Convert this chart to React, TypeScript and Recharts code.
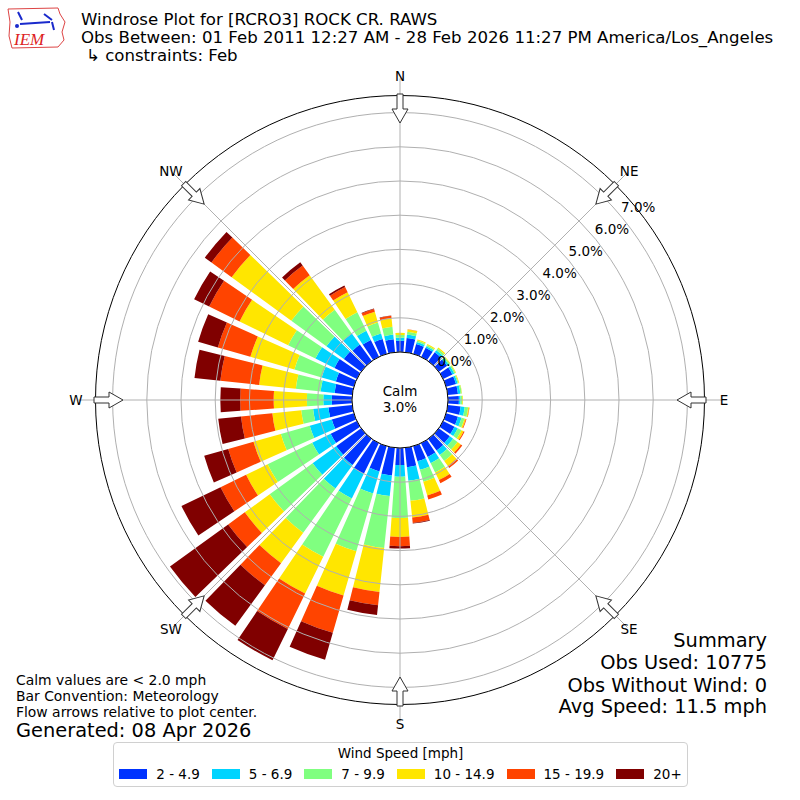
import React from "react";
import {
  RadialBarChart,
  RadialBar,
  PolarAngleAxis,
  PolarRadiusAxis,
  PolarGrid,
} from "recharts";

// direction bins (degrees, meteorological "from")
const DIRS = [
  0, 10, 20, 30, 40, 50, 60, 70, 80, 90, 100, 110, 120, 130, 140, 150, 160, 170,
  180, 190, 200, 210, 220, 230, 240, 250, 260, 270, 280, 290, 300, 310, 320, 330, 340, 350,
];

// frequency (%) per speed bin, one value per direction
const SPD_2_5 = [
  0.33, 0.42, 0.3, 0.3, 0.32, 0.3, 0.3, 0.3, 0.3, 0.32, 0.38, 0.36, 0.37, 0.4, 0.42, 0.45, 0.46, 0.57,
  0.5, 0.82, 0.77, 1.0, 0.95, 0.9, 0.85, 0.67, 0.7, 0.59, 0.52, 0.55, 0.73, 0.63, 0.6, 0.55, 0.45, 0.38,
];
const SPD_5_7 = [
  0.09, 0.1, 0.06, 0.05, 0.08, 0.06, 0.06, 0.05, 0.07, 0.05, 0.12, 0.11, 0.11, 0.12, 0.16, 0.2, 0.26, 0.4,
  0.34, 0.6, 0.67, 0.8, 0.85, 0.85, 0.6, 0.67, 0.45, 0.25, 0.41, 0.43, 0.62, 0.63, 0.4, 0.3, 0.17, 0.14,
];
const SPD_7_10 = [
  0.08, 0.08, 0.05, 0.04, 0.06, 0.04, 0.04, 0.03, 0.04, 0.05, 0.1, 0.09, 0.12, 0.16, 0.22, 0.3, 0.36, 0.59,
  1.21, 1.53, 1.76, 1.9, 1.6, 1.55, 1.45, 0.88, 0.35, 0.48, 0.73, 0.83, 0.89, 1.27, 0.85, 0.6, 0.33, 0.23,
];
const SPD_10_15 = [
  0.06, 0.07, 0.03, 0.03, 0.04, 0.02, 0.02, 0.02, 0.01, 0.02, 0.03, 0.04, 0.07, 0.12, 0.18, 0.25, 0.42, 0.49,
  0.55, 1.29, 1.35, 1.2, 1.1, 0.9, 0.7, 0.83, 0.85, 0.97, 1.08, 1.34, 1.58, 2.16, 1.25, 0.65, 0.33, 0.25,
];
const SPD_15_20 = [
  0, 0.01, 0, 0, 0, 0, 0, 0, 0, 0, 0.01, 0.02, 0.03, 0.05, 0.07, 0.1, 0.12, 0.16,
  0.27, 0.39, 1.13, 1.15, 0.8, 0.6, 0.83, 0.77, 0.92, 0.98, 1.14, 0.99, 0.99, 0.73, 0.35, 0.17, 0.08, 0.07,
];
const SPD_20 = [
  0, 0, 0, 0, 0, 0, 0, 0, 0, 0, 0, 0, 0, 0, 0, 0, 0, 0.02,
  0.07, 0.29, 0.82, 1.02, 1.47, 2.1, 1.27, 0.73, 0.67, 0.58, 0.76, 0.6, 0.49, 0.24, 0.12, 0.05, 0.02, 0.01,
];

const SPEED_LABELS = ["2 - 4.9", "5 - 6.9", "7 - 9.9", "10 - 14.9", "15 - 19.9", "20+"];
const SPEED_COLORS = ["#0033ff", "#00d4ff", "#80ff80", "#ffe600", "#ff4400", "#800000"];
const SPEED_SERIES = [SPD_2_5, SPD_5_7, SPD_7_10, SPD_10_15, SPD_15_20, SPD_20];

const RADIUS_TICKS = [0, 1, 2, 3, 4, 5, 6, 7];
const COMPASS = ["N", "NE", "E", "SE", "S", "SW", "W", "NW"];

const data = DIRS.map((dir, i) => {
  const row: Record<string, number> = { dir };
  SPEED_SERIES.forEach((s, k) => {
    row["s" + k] = s[i];
  });
  return row;
});

const CX = 400;
const CY = 400;
const INNER = 48;
const FRAME = 304.5; // plot edge, 7.5 %
const PX_PER_PCT = (FRAME - INNER) / 7.5;
const RMAX = 8; // recharts nices the radius domain up to 8
const OUTER = INNER + PX_PER_PCT * RMAX;
const FONT = "'DejaVu Sans', sans-serif";

function RadiusTick(props: any) {
  const { x, y, payload } = props;
  return (
    <text x={x + 18} y={y - 8} textAnchor="middle" dominantBaseline="central" fontSize={13.5} fill="#000" fontFamily={FONT}>
      {payload.value.toFixed(1) + "%"}
    </text>
  );
}

function Overlay() {
  const pt = (deg: number, r: number) => {
    const a = (deg * Math.PI) / 180;
    return [CX + r * Math.sin(a), CY - r * Math.cos(a)];
  };
  return (
    <svg width={800} height={800} style={{ position: "absolute", left: 0, top: 0, pointerEvents: "none" }} fontFamily={FONT}>
      <circle cx={CX} cy={CY} r={FRAME} fill="none" stroke="#000" strokeWidth={1} />
      <circle cx={CX} cy={CY} r={INNER} fill="#fff" stroke="#000" strokeWidth={1} />
      <text x={CX} y={CY - 9} textAnchor="middle" dominantBaseline="central" fontSize={13.5}>Calm</text>
      <text x={CX} y={CY + 7} textAnchor="middle" dominantBaseline="central" fontSize={13.5}>3.0%</text>
      {COMPASS.map((lbl, i) => {
        const deg = i * 45;
        const [lx, ly] = pt(deg, 324);
        return (
          <g key={lbl}>
            <g transform={`translate(${CX},${CY}) rotate(${deg})`}>
              <polygon
                points="-3,-306 3,-306 3,-291 8,-291 0,-277 -8,-291 -3,-291"
                fill="#fff"
                stroke="#333"
                strokeWidth={1}
              />
            </g>
            <text x={lx} y={ly} textAnchor="middle" dominantBaseline="central" fontSize={13.5}>{lbl}</text>
          </g>
        );
      })}
      {/* logo */}
      <path d="M8,9 L58,8 L60,14 L65,22 L62,32 L64,40 L58,47 L12,48 L9,36 L10,22 Z" fill="#fff" stroke="#d44" strokeWidth={1} />
      <line x1={20} y1={24} x2={50} y2={22} stroke="#1a2acc" strokeWidth={2} />
      <path d="M18,12 L22,20 M44,14 L52,20 M52,22 L54,30" stroke="#1a2acc" strokeWidth={2} fill="none" />
      <circle cx={17} cy={26} r={2} fill="#1a2acc" />
      <text x={14} y={45} fontFamily="'Liberation Serif', serif" fontStyle="italic" fontSize={17} fill="#d22">IEM</text>
      {/* titles */}
      <text x={81} y={25} fontSize={16.6}>Windrose Plot for [RCRO3] ROCK CR. RAWS</text>
      <text x={81} y={43} fontSize={16.6}>Obs Between: 01 Feb 2011 12:27 AM - 28 Feb 2026 11:27 PM America/Los_Angeles</text>
      <text x={86} y={61} fontSize={16.6}>↳ constraints: Feb</text>
      {/* notes */}
      <text x={16} y={685} fontSize={13.9}>Calm values are &lt; 2.0 mph</text>
      <text x={16} y={701} fontSize={13.9}>Bar Convention: Meteorology</text>
      <text x={16} y={717} fontSize={13.9}>Flow arrows relative to plot center.</text>
      <text x={16} y={737} fontSize={19.4}>Generated: 08 Apr 2026</text>
      <text x={767} y={647} fontSize={19.4} textAnchor="end">Summary</text>
      <text x={767} y={669} fontSize={19.4} textAnchor="end">Obs Used: 10775</text>
      <text x={767} y={692} fontSize={19.4} textAnchor="end">Obs Without Wind: 0</text>
      <text x={767} y={713} fontSize={19.4} textAnchor="end">Avg Speed: 11.5 mph</text>
    </svg>
  );
}

function SpeedLegend() {
  return (
    <div
      style={{
        position: "absolute",
        left: 113,
        top: 742,
        width: 575,
        height: 45,
        boxSizing: "border-box",
        border: "1px solid #d0d0d0",
        borderRadius: 4,
        background: "#fff",
        fontFamily: FONT,
        fontSize: 13.5,
        textAlign: "center",
      }}
    >
      <div style={{ marginTop: 2, lineHeight: "16px" }}>Wind Speed [mph]</div>
      <div style={{ display: "flex", justifyContent: "center", alignItems: "center", gap: 12, marginTop: 5 }}>
        {SPEED_LABELS.map((lbl, i) => (
          <div key={lbl} style={{ display: "flex", alignItems: "center" }}>
            <span style={{ display: "inline-block", width: 28, height: 10, background: SPEED_COLORS[i], marginRight: 9 }} />
            <span>{lbl}</span>
          </div>
        ))}
      </div>
    </div>
  );
}

// shared polar setup for the bar chart and the grid chart drawn over it
const polarProps = {
  width: 800,
  height: 800,
  data,
  layout: "centric" as const,
  cx: CX,
  cy: CY,
  innerRadius: INNER,
  outerRadius: OUTER,
  startAngle: 85,
  endAngle: -275,
  margin: { top: 0, right: 0, bottom: 0, left: 0 },
};

const radiusAxisProps = {
  type: "number" as const,
  domain: [0, RMAX],
  allowDataOverflow: true,
  tickCount: RMAX + 1,
  ticks: RADIUS_TICKS,
  angle: 40,
  axisLine: false,
  tickLine: false,
};

export default function App() {
  return (
    <div style={{ position: "absolute", left: 0, top: 0, width: 800, height: 800, background: "#fff" }}>
      <div style={{ position: "absolute", left: 0, top: 0 }}>
        <RadialBarChart {...polarProps} barCategoryGap="9%">
          <PolarAngleAxis type="category" dataKey="dir" tick={false} axisLine={false} tickLine={false} />
          <PolarRadiusAxis {...radiusAxisProps} tick={false} />
          {SPEED_LABELS.map((lbl, k) => (
            <RadialBar
              key={lbl}
              dataKey={"s" + k}
              name={lbl}
              stackId="a"
              fill={SPEED_COLORS[k]}
              isAnimationActive={false}
            />
          ))}
        </RadialBarChart>
      </div>
      {/* matplotlib draws the grid over the bars */}
      <div style={{ position: "absolute", left: 0, top: 0 }}>
        <RadialBarChart {...polarProps}>
          <PolarAngleAxis type="category" dataKey="dir" tick={false} axisLine={false} tickLine={false} />
          <PolarRadiusAxis {...radiusAxisProps} tick={RadiusTick} />
          <PolarGrid
            gridType="circle"
            outerRadius={FRAME}
            polarAngles={[90, 45, 0, -45, -90, -135, 180, 135]}
            stroke="#b0b0b0"
            strokeWidth={1}
          />
        </RadialBarChart>
      </div>
      <Overlay />
      <SpeedLegend />
    </div>
  );
}
